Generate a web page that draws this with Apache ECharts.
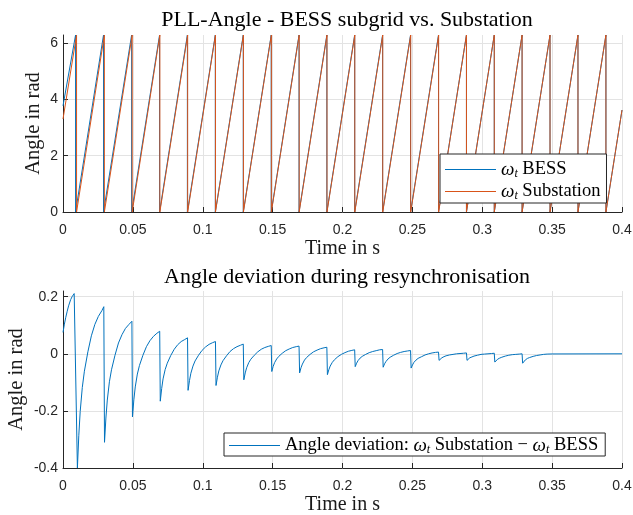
<!DOCTYPE html>
<html>
<head>
<meta charset="utf-8">
<script src="https://cdn.jsdelivr.net/npm/echarts@6/dist/echarts.min.js"></script>
<style>
  html, body { margin: 0; padding: 0; background: #fff; }
  #chart { width: 633px; height: 515px; }
</style>
</head>
<body>
<div id="chart"></div>
<script>
// wrap instants (angle falls from 2*pi to 0)
const bessWraps = [0.0090, 0.0290, 0.0491, 0.0691, 0.0890, 0.1090, 0.1290, 0.1490, 0.1689, 0.1888,
  0.2087, 0.2287, 0.2487, 0.2687, 0.2887, 0.3086, 0.3285, 0.3485, 0.3685, 0.3885]
const subWraps = [0.0097, 0.0296, 0.0495, 0.0693, 0.0892, 0.1091, 0.1291, 0.1491, 0.1690, 0.1889,
  0.2088, 0.2288, 0.2488, 0.2688, 0.2887, 0.3086, 0.3285, 0.3485, 0.3685, 0.3885]
const bessEnds = [3.77, 3.62]   // angle at t = 0 and t = 0.4
const subEnds = [3.30, 3.62]
const angleTop = 6.2832

// angle deviation, lower plot (one row per cycle: trough ... peak)
const devTime = [
  0, 0.001, 0.002, 0.003, 0.004, 0.0055, 0.0065, 0.008, 0.0092,
  0.0103, 0.0113, 0.0123, 0.0138, 0.0153, 0.0178, 0.0203, 0.0228, 0.0253, 0.0278, 0.0292,
  0.0297, 0.0307, 0.0317, 0.0332, 0.0347, 0.0372, 0.0397, 0.0422, 0.0447, 0.0472, 0.0493,
  0.0497, 0.0507, 0.0517, 0.0532, 0.0547, 0.0572, 0.0597, 0.0622, 0.0647, 0.0672, 0.0692,
  0.0696, 0.0706, 0.0716, 0.0731, 0.0746, 0.0771, 0.0796, 0.0821, 0.0846, 0.0871, 0.0891,
  0.0895, 0.0905, 0.0915, 0.0930, 0.0945, 0.0970, 0.0995, 0.1020, 0.1045, 0.1070, 0.1091,
  0.1095, 0.1105, 0.1115, 0.1130, 0.1145, 0.1170, 0.1195, 0.1220, 0.1245, 0.1270, 0.1290,
  0.1294, 0.1304, 0.1314, 0.1329, 0.1344, 0.1369, 0.1394, 0.1419, 0.1444, 0.1469, 0.1490,
  0.1494, 0.1504, 0.1514, 0.1529, 0.1544, 0.1569, 0.1594, 0.1619, 0.1644, 0.1669, 0.1689,
  0.1693, 0.1703, 0.1713, 0.1728, 0.1743, 0.1768, 0.1793, 0.1818, 0.1843, 0.1868, 0.1888,
  0.1892, 0.1902, 0.1912, 0.1927, 0.1942, 0.1967, 0.1992, 0.2017, 0.2042, 0.2067, 0.2087,
  0.2091, 0.2101, 0.2111, 0.2126, 0.2141, 0.2166, 0.2191, 0.2216, 0.2241, 0.2266, 0.2287,
  0.2291, 0.2301, 0.2311, 0.2326, 0.2341, 0.2366, 0.2391, 0.2416, 0.2441, 0.2466, 0.2487,
  0.2491, 0.2501, 0.2511, 0.2526, 0.2541, 0.2566, 0.2591, 0.2616, 0.2641, 0.2666, 0.2687,
  0.2691, 0.2701, 0.2711, 0.2726, 0.2741, 0.2766, 0.2791, 0.2816, 0.2841, 0.2866, 0.2887,
  0.2891, 0.2901, 0.2911, 0.2926, 0.2941, 0.2966, 0.2991, 0.3016, 0.3041, 0.3066, 0.3086,
  0.3090, 0.3100, 0.3110, 0.3125, 0.3140, 0.3165, 0.3190, 0.3215, 0.3240, 0.3265, 0.3285,
  0.3289, 0.3299, 0.3309, 0.3324, 0.3339, 0.3364, 0.3389, 0.3414, 0.3439, 0.3464, 0.3500, 0.4000
]
const devValue = [
  0.075, 0.104, 0.128, 0.149, 0.168, 0.190, 0.200, 0.211, 0.218,
  -0.400, -0.287, -0.202, -0.118, -0.061, 0.007, 0.063, 0.103, 0.131, 0.151, 0.165,
  -0.310, -0.225, -0.162, -0.098, -0.056, -0.005, 0.038, 0.067, 0.089, 0.103, 0.114,
  -0.221, -0.161, -0.116, -0.071, -0.041, -0.005, 0.025, 0.046, 0.061, 0.072, 0.079,
  -0.166, -0.122, -0.088, -0.055, -0.033, -0.006, 0.016, 0.032, 0.043, 0.050, 0.056,
  -0.128, -0.094, -0.068, -0.043, -0.025, -0.005, 0.012, 0.024, 0.033, 0.039, 0.043,
  -0.111, -0.082, -0.060, -0.039, -0.024, -0.007, 0.008, 0.018, 0.025, 0.030, 0.034,
  -0.091, -0.067, -0.049, -0.031, -0.019, -0.005, 0.007, 0.016, 0.022, 0.026, 0.029,
  -0.062, -0.044, -0.031, -0.018, -0.009, 0.002, 0.011, 0.017, 0.022, 0.025, 0.027,
  -0.067, -0.049, -0.036, -0.022, -0.013, -0.002, 0.007, 0.013, 0.018, 0.021, 0.023,
  -0.073, -0.056, -0.043, -0.030, -0.021, -0.010, -0.002, 0.004, 0.009, 0.012, 0.014,
  -0.045, -0.033, -0.024, -0.015, -0.009, -0.002, 0.004, 0.008, 0.011, 0.014, 0.015,
  -0.047, -0.035, -0.027, -0.018, -0.012, -0.005, 0.001, 0.005, 0.008, 0.010, 0.0115,
  -0.050, -0.039, -0.030, -0.022, -0.016, -0.010, -0.004, 0.000, 0.003, 0.005, 0.006,
  -0.023, -0.018, -0.014, -0.010, -0.007, -0.004, -0.002, 0.000, 0.001, 0.002, 0.003,
  -0.023, -0.018, -0.014, -0.011, -0.008, -0.005, -0.002, -0.001, 0.000, 0.001, 0.002,
  -0.029, -0.023, -0.019, -0.015, -0.012, -0.008, -0.005, -0.003, -0.002, -0.001, 0.000,
  -0.033, -0.026, -0.021, -0.016, -0.013, -0.009, -0.006, -0.004, -0.002, -0.001, -0.0005, 0.000
]

const serif = '"Liberation Serif", "DejaVu Serif", serif'
const sans = '"Liberation Sans", Arial, sans-serif'
const ink = '#262626'
const blue = '#0072BD'
const orange = '#D95319'

const sawtooth = (wraps, ends) => {
  const pts = [[0, ends[0]]]
  wraps.forEach(w => {
    pts.push([w, angleTop])
    pts.push([w, 0])
  })
  pts.push([0.4, ends[1]])
  return pts
}

const legendRich = {
  w: { fontFamily: serif, fontStyle: 'italic', fontSize: 19, color: '#000' },
  s: { fontFamily: serif, fontStyle: 'italic', fontSize: 12, color: '#000', padding: [9, 0, 0, 0] },
  n: { fontFamily: serif, fontSize: 18.5, color: '#000' }
}

const xAxisBase = (gridIndex) => ({
  type: 'value',
  gridIndex,
  min: 0,
  max: 0.4,
  interval: 0.05,
  name: 'Time in s',
  nameLocation: 'middle',
  nameGap: 27,
  nameTextStyle: { fontFamily: serif, fontSize: 20, color: '#1a1a1a' },
  axisLine: { onZero: false, lineStyle: { color: ink, width: 1 } },
  axisTick: { inside: true, length: 5, lineStyle: { color: ink } },
  axisLabel: { fontFamily: sans, fontSize: 14, color: ink, margin: 11 },
  splitLine: { show: true, lineStyle: { color: '#e3e3e3', width: 1 } }
})

const yAxisBase = (gridIndex, min, max, interval, nameGap) => ({
  type: 'value',
  gridIndex,
  min,
  max,
  interval,
  name: 'Angle in rad',
  nameLocation: 'middle',
  nameGap,
  nameMoveOverlap: false,
  nameTextStyle: { fontFamily: serif, fontSize: 20.5, color: '#1a1a1a' },
  axisLine: { show: true, onZero: false, lineStyle: { color: ink, width: 1 } },
  axisTick: { show: true, inside: true, length: 5, lineStyle: { color: ink } },
  axisLabel: { fontFamily: sans, fontSize: 14, color: ink, margin: 5, showMaxLabel: false },
  splitLine: { show: true, showMaxLine: false, lineStyle: { color: '#e3e3e3', width: 1 } }
})

const legendBase = {
  icon: 'rect',
  itemWidth: 51,
  itemHeight: 1,
  backgroundColor: '#fff',
  borderColor: ink,
  borderWidth: 1,
  borderRadius: 0,
  textStyle: { rich: legendRich }
}

const chart = echarts.init(document.getElementById('chart'))
chart.setOption({
  animation: false,
  backgroundColor: '#fff',
  title: [
    {
      text: 'PLL-Angle - BESS subgrid vs. Substation',
      left: 342, top: 4, textAlign: 'center',
      textStyle: { fontFamily: serif, fontSize: 22, fontWeight: 'normal', color: '#000' }
    },
    {
      text: 'Angle deviation during resynchronisation',
      left: 342, top: 261, textAlign: 'center',
      textStyle: { fontFamily: serif, fontSize: 22, fontWeight: 'normal', color: '#000' }
    }
  ],
  grid: [
    { left: 63, right: 11, top: 35, height: 177, outerBoundsMode: 'none' },
    { left: 63, right: 11, top: 291, height: 177, outerBoundsMode: 'none' }
  ],
  legend: [
    Object.assign({}, legendBase, {
      data: ['BESS', 'Substation'],
      orient: 'vertical',
      left: 440, top: 154,
      padding: [6, 6, 1, 5],
      itemGap: 2,
      formatter: name => '{w|ω}{s|t}{n| ' + name + '}'
    }),
    Object.assign({}, legendBase, {
      data: ['Angle deviation'],
      left: 224, top: 433,
      padding: [3, 7, 0, 5],
      formatter: () => '{n|Angle deviation: }{w|ω}{s|t}{n| Substation − }{w|ω}{s|t}{n| BESS}'
    })
  ],
  xAxis: [xAxisBase(0), xAxisBase(1)],
  yAxis: [yAxisBase(0, 0, angleTop, 2, 19), yAxisBase(1, -0.4, 0.22, 0.2, 36)],
  series: [
    {
      name: 'BESS', type: 'line', xAxisIndex: 0, yAxisIndex: 0,
      data: sawtooth(bessWraps, bessEnds),
      symbol: 'none', lineStyle: { color: blue, width: 1 }, itemStyle: { color: blue }
    },
    {
      name: 'Substation', type: 'line', xAxisIndex: 0, yAxisIndex: 0,
      data: sawtooth(subWraps, subEnds),
      symbol: 'none', lineStyle: { color: orange, width: 1 }, itemStyle: { color: orange }
    },
    {
      name: 'Angle deviation', type: 'line', xAxisIndex: 1, yAxisIndex: 1,
      data: devTime.map((t, i) => [t, devValue[i]]),
      symbol: 'none',
      lineStyle: { color: blue, width: 1 }, itemStyle: { color: blue }
    }
  ]
})
</script>
</body>
</html>
